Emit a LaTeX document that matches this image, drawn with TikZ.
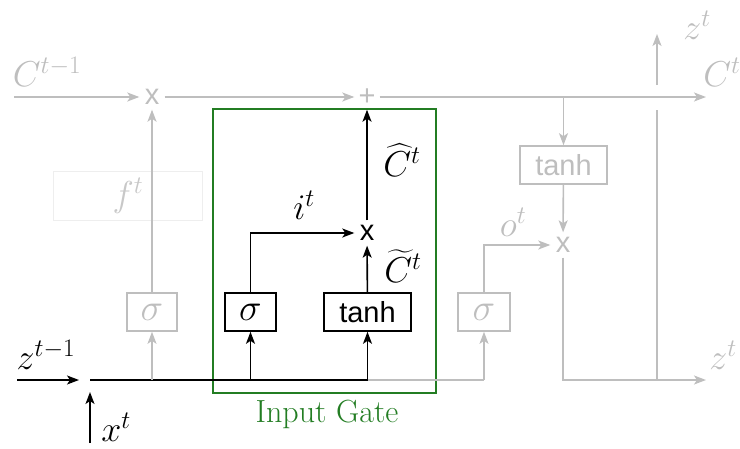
\RequirePackage{fix-cm}
\documentclass[tikz,border=0pt]{standalone}
\usepackage{exscale}
\usepackage{fontspec}
\setsansfont{Liberation Sans}
\usetikzlibrary{arrows.meta}
\definecolor{lg}{RGB}{190,190,190}
\definecolor{fg}{RGB}{238,238,238}
\definecolor{gg}{RGB}{35,125,35}
\begin{document}
\begin{tikzpicture}[x=1pt,y=-1pt,
  every node/.style={font=\fontsize{36}{40}\selectfont},
  gline/.style={lg,line width=1.6pt},
  bline/.style={black,line width=1.6pt},
  garr/.style={gline,-{Stealth[length=12pt,width=9pt,inset=3pt]}},
  barr/.style={bline,-{Stealth[length=12pt,width=9pt,inset=3pt]}},
  op/.style={inner sep=0pt,minimum size=25pt,font=\sffamily\fontsize{29}{34}\selectfont},
  gbox/.style={draw=lg,line width=1.6pt,inner sep=0pt,minimum height=38pt,text=lg},
  bbox/.style={draw=black,line width=1.6pt,inner sep=0pt,minimum height=38pt},
  glab/.style={text=lg,inner sep=0pt},
  blab/.style={inner sep=0pt}]
\useasboundingbox (0,0) rectangle (740,448);
% input gate frame
\node[draw=gg,line width=1.6pt,minimum width=223pt,minimum height=284pt,inner sep=0pt] (gate) at (324.5,251) {};
\node[text=gg,inner sep=0pt,font=\fontsize{32}{36}\selectfont] (gatelab) at (327,414) {Input Gate};
% faint forget label box
\node[draw=fg,line width=1pt,minimum width=149pt,minimum height=49pt,inner sep=0pt] (fbox) at (127.5,195.5) {};
\node[text=lg!85!white,inner sep=0pt] (flab) at (128,196) {$f^t$};
% operators
\node[op,text=lg] (m1) at (152,97) {x};
\node[op,text=lg] (p1) at (367,97) {+};
\node[op] (m2) at (367,233) {x};
\node[op,text=lg] (m3) at (563,245) {x};
% boxes
\node[gbox,minimum width=50pt,font=\fontsize{38}{40}\selectfont] (sigf) at (152,312) {$\sigma$};
\node[bbox,minimum width=51pt,font=\fontsize{38}{40}\selectfont] (sigi) at (250.5,312) {$\sigma$};
\node[bbox,minimum width=87pt,font=\sffamily\fontsize{29}{34}\selectfont] (tanhi) at (367.5,312) {tanh};
\node[gbox,minimum width=52pt,font=\fontsize{38}{40}\selectfont] (sigo) at (484,312) {$\sigma$};
\node[gbox,minimum width=87pt,font=\sffamily\fontsize{29}{34}\selectfont] (tanho) at (563.5,165) {tanh};
% coordinates
\coordinate (cin) at (14,97);
\coordinate (cout) at (706,97);
\coordinate (zin) at (17,380);
\coordinate (zend) at (79,380);
\coordinate (join) at (90,380);
\coordinate (xin) at (90,443);
\coordinate (xend) at (90,392);
\coordinate (bf) at (152,380);
\coordinate (bi) at (250.5,380);
\coordinate (bt) at (367.5,380);
\coordinate (bo) at (484,380);
\coordinate (tc) at (563.5,97);
\coordinate (zout) at (706,380);
\coordinate (vbot) at (657,380);
\coordinate (vtop) at (657,110);
\coordinate (vs) at (657,85);
\coordinate (ztop) at (657,34);
% cell state line
\draw[garr] (cin) -- (m1);
\draw[garr] (m1) -- (p1);
\draw[garr] (p1) -- (cout);
% bottom line
\draw[bline] (join) -- (bt);
\draw[gline] (bt) -- (bo);
\draw[barr] (zin) -- (zend);
\draw[barr] (xin) -- (xend);
% forget gate
\draw[garr] (bf) -- (sigf);
\draw[garr] (sigf) -- (m1);
% input gate
\draw[barr] (bi) -- (sigi);
\draw[barr] (bt) -- (tanhi);
\draw[barr] (sigi.north) |- (m2);
\draw[barr] (tanhi) -- (m2);
\draw[barr] (m2) -- (p1);
% output gate
\draw[garr] (bo) -- (sigo);
\draw[garr] (sigo.north) |- (m3);
\draw[garr] (tc) -- (tanho);
\draw[garr] (tanho) -- (m3);
\draw[garr] (m3) |- (zout);
\draw[gline] (vbot) -- (vtop);
\draw[garr] (vs) -- (ztop);
% labels
\node[glab] (lcin) at (47,72) {$C^{t-1}$};
\node[glab] (lcout) at (722,72) {$C^{t}$};
\node[glab] (lztop) at (697,25) {$z^{t}$};
\node[glab] (lzout) at (723,355) {$z^{t}$};
\node[blab] (lzin) at (46,355) {$z^{t-1}$};
\node[blab] (lxin) at (116,427) {$x^{t}$};
\node[blab] (li) at (304,205) {$i^{t}$};
\node[blab] (lch) at (402,160) {$\widehat{C}^{t}$};
\node[blab] (lct) at (403,266) {$\widetilde{C}^{t}$};
\node[glab] (lo) at (513,222) {$o^{t}$};
\end{tikzpicture}
\end{document}
